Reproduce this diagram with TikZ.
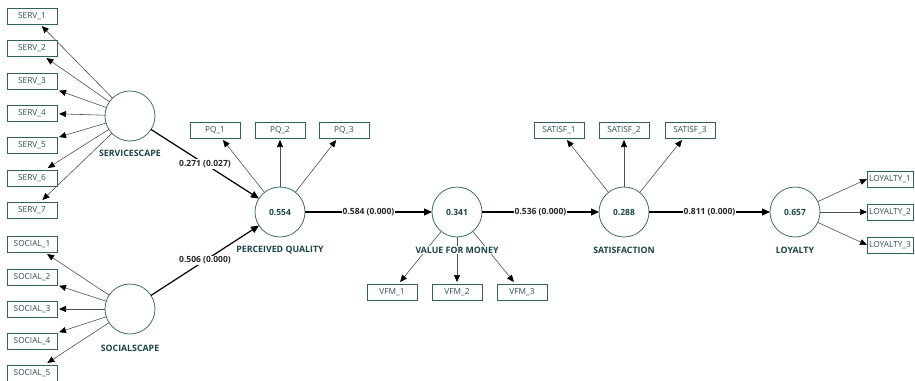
\documentclass[tikz,border=0pt]{standalone}
\usepackage{fontspec}
\setmainfont{Open Sans}
\usetikzlibrary{arrows.meta}
\definecolor{lvline}{RGB}{62,110,110}
\definecolor{boxline}{RGB}{50,95,95}
\definecolor{boxtxt}{RGB}{45,80,80}
\definecolor{lvtxt}{RGB}{25,70,70}
\definecolor{indline}{RGB}{80,80,80}
\begin{document}
\begin{tikzpicture}[x=1pt,y=-1pt,
  lv/.style={circle,draw=lvline,line width=0.8pt,fill=white,minimum size=50pt,inner sep=0pt,outer sep=0pt,
    font=\fontsize{8.5}{10}\selectfont\bfseries,text=lvtxt},
  ind/.style={rectangle,draw=boxline,line width=0.7pt,fill=white,minimum width=50pt,minimum height=16pt,inner sep=0pt,outer sep=2pt,
    font=\fontsize{8.3}{10}\selectfont,text=boxtxt},
  lvname/.style={font=\fontsize{8.8}{10}\selectfont\bfseries,text=lvtxt,fill=white,inner sep=1pt},
  iarr/.style={draw=indline,line width=0.6pt,-{Triangle[length=7pt,width=6pt,color=black]}},
  parr/.style={draw=black,line width=1.2pt,-{Triangle[length=8pt,width=7pt]}},
  elab/.style={font=\fontsize{8.5}{10}\selectfont\bfseries,fill=white,inner sep=1pt,text=black!85}
]
\useasboundingbox (0,0) rectangle (915,380);
% latent variables
\node[lv] (serv) at (130,116) {};
\node[lv] (soc) at (130,309) {};
\node[lv] (pq) at (280,212) {0.554};
\node[lv] (vfm) at (457,212) {0.341};
\node[lv] (sat) at (624,212) {0.288};
\node[lv] (loy) at (795,212) {0.657};
% indicators
\foreach \i/\y in {1/16,2/48,3/81,4/113,5/145,6/178,7/210}{
  \node[ind] (s\i) at (32,\y) {SERV\_\i};
  \draw[iarr] (serv) -- (s\i);
}
\foreach \i/\y in {1/244,2/277,3/309,4/341,5/373}{
  \node[ind] (so\i) at (32,\y) {SOCIAL\_\i};
  \draw[iarr] (soc) -- (so\i);
}
\foreach \i/\x in {1/215,2/280,3/344}{
  \node[ind] (pq\i) at (\x,130) {PQ\_\i};
  \draw[iarr] (pq) -- (pq\i);
}
\foreach \i/\x in {1/392,2/457,3/522}{
  \node[ind] (vfm\i) at (\x,292) {VFM\_\i};
  \draw[iarr] (vfm) -- (vfm\i);
}
\foreach \i/\x in {1/559,2/624,3/690}{
  \node[ind] (sat\i) at (\x,130) {SATISF\_\i};
  \draw[iarr] (sat) -- (sat\i);
}
\foreach \i/\y in {1/179,2/212,3/245}{
  \node[ind,minimum width=46pt,outer sep=0pt] (loy\i) at (890,\y) {LOYALTY\_\i};
  \draw[iarr] (loy) -- (loy\i.west);
}
% structural paths
\draw[parr] (serv) -- node[elab] {0.271 (0.027)} (pq);
\draw[parr] (soc) -- node[elab] {0.506 (0.000)} (pq);
\draw[parr] (pq) -- node[elab] {0.584 (0.000)} (vfm);
\draw[parr] (vfm) -- node[elab] {0.536 (0.000)} (sat);
\draw[parr] (sat) -- node[elab] {0.811 (0.000)} (loy);
% names
\node[lvname] (servn) at (130,153) {SERVICESCAPE};
\node[lvname] (socn) at (130,348) {SOCIALSCAPE};
\node[lvname] (pqn) at (280,250) {PERCEIVED QUALITY};
\node[lvname] (vfmn) at (457,250) {VALUE FOR MONEY};
\node[lvname] (satn) at (624,250) {SATISFACTION};
\node[lvname] (loyn) at (795,250) {LOYALTY};
\end{tikzpicture}
\end{document}
